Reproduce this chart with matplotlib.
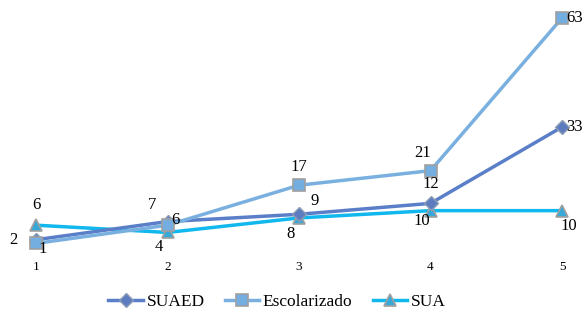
import matplotlib
matplotlib.use("Agg")
import matplotlib.pyplot as plt

# Data
periods = [1, 2, 3, 4, 5]
suaed = [2, 7, 9, 12, 33]
escolarizado = [1, 6, 17, 21, 63]
sua = [6, 4, 8, 10, 10]

plt.rcParams['font.family'] = ['Liberation Serif', 'DejaVu Serif']

W, H = 584, 314
fig = plt.figure(figsize=(W / 100, H / 100), dpi=100)
# x: 1 -> px 36, 5 -> px 562 ; y: 0 -> px 247, 63 -> px 18
ax = fig.add_axes([36 / W, (H - 247) / H, (562 - 36) / W, (247 - 18) / H])

ax.plot(periods, suaed, color='#5A7FC8', lw=2.5, marker='D', ms=7,
        mfc='#5C7CBF', mec='#8C9DB5', mew=1, label='SUAED', clip_on=False, zorder=3)
ax.plot(periods, escolarizado, color='#79B0E0', lw=2.5, marker='s', ms=9,
        mfc='#74AEE0', mec='#A0A0A0', mew=1.2, label='Escolarizado', clip_on=False, zorder=4)
ax.plot(periods, sua, color='#10B8EE', lw=2.5, marker='^', ms=9,
        mfc='#38A8D8', mec='#A0A0A0', mew=1.2, label='SUA', clip_on=False, zorder=2)

ax.set_xlim(1, 5)
ax.set_ylim(0, 63)
for s in ax.spines.values():
    s.set_visible(False)
ax.set_yticks([])
ax.set_xticks(periods)
ax.tick_params(axis='x', length=0, pad=10, labelsize=9.5)

fs = 12
# label offsets (points) per series
off_suaed = [(-13, 0, 'right', 'center'), (-8, 6, 'right', 'bottom'), (8, 4, 'left', 'bottom'),
             (0, 8, 'center', 'bottom'), (3, 0, 'left', 'center')]
off_esc = [(2, -4, 'left', 'center'), (3, 4, 'left', 'center'), (0, 7, 'center', 'bottom'),
           (-6, 7, 'center', 'bottom'), (3, 0, 'left', 'center')]
off_sua = [(0, 9, 'center', 'bottom'), (-6, -5, 'center', 'top'), (-6, -6, 'center', 'top'),
           (-6, -2, 'center', 'top'), (-1, -5, 'left', 'top')]
for vals, offs in [(suaed, off_suaed), (escolarizado, off_esc), (sua, off_sua)]:
    for x, v, (dx, dy, ha, va) in zip(periods, vals, offs):
        ax.annotate(str(v), (x, v), xytext=(dx, dy), textcoords='offset points',
                    ha=ha, va=va, fontsize=fs, annotation_clip=False, zorder=6)

fig.legend(loc='center', bbox_to_anchor=(277 / W, (H - 302) / H), ncol=3, frameon=False,
           fontsize=12.5, handlelength=2.0, columnspacing=1.15, handletextpad=0.2)

fig.savefig('out.png', dpi=100)
